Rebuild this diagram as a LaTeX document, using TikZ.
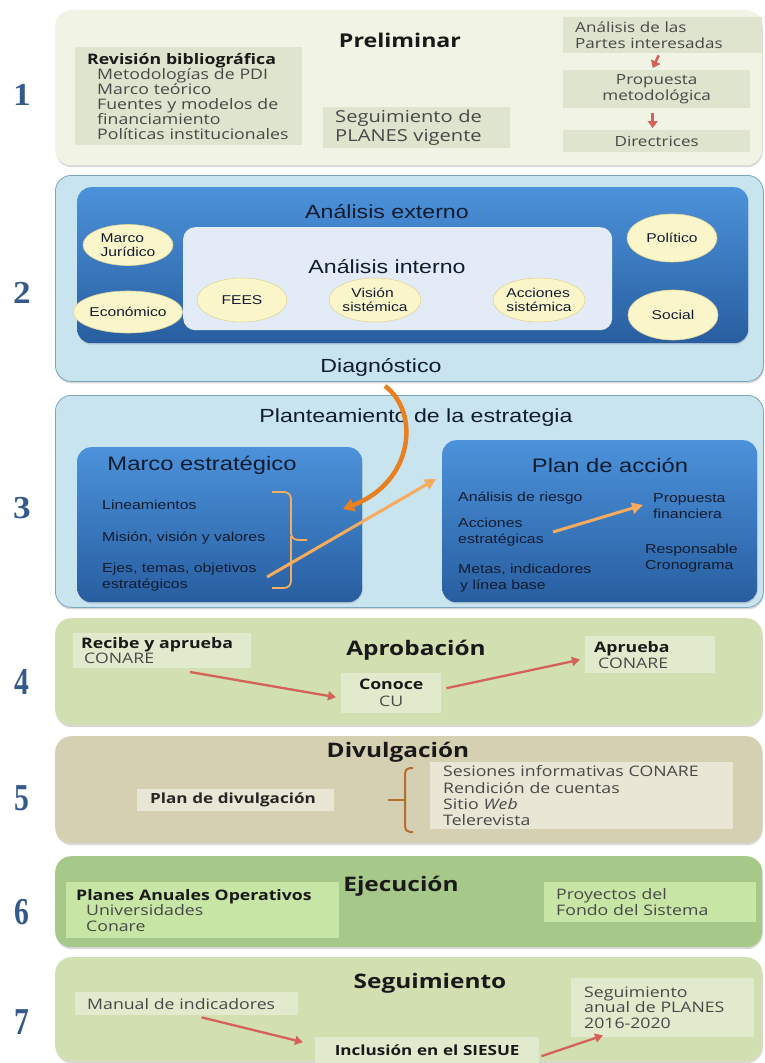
\documentclass[tikz,border=0pt]{standalone}
\usepackage{fontspec}
\setmainfont{Liberation Sans}[FakeStretch=1.22]
\newfontfamily\hfont{Open Sans}[FakeStretch=1.22]
\newfontfamily\numfont{Liberation Serif}[FakeStretch=1.1]
\newfontfamily\numfontc{Liberation Serif}[FakeStretch=0.78]
\usetikzlibrary{shadows,arrows.meta,shapes.geometric}

\definecolor{numblue}{RGB}{52,90,140}
\definecolor{s1fill}{RGB}{241,243,228}
\definecolor{s1box}{RGB}{222,228,205}
\definecolor{lblue}{RGB}{200,228,238}
\definecolor{lblueb}{RGB}{125,165,190}
\definecolor{dbluet}{RGB}{76,146,218}
\definecolor{dblueb}{RGB}{40,94,160}
\definecolor{inlight}{RGB}{227,235,246}
\definecolor{ellfill}{RGB}{251,246,202}
\definecolor{ellbord}{RGB}{225,214,150}
\definecolor{s4fill}{RGB}{210,223,177}
\definecolor{s4box}{RGB}{226,234,205}
\definecolor{s5fill}{RGB}{214,208,178}
\definecolor{s5box}{RGB}{233,230,214}
\definecolor{s6fill}{RGB}{166,201,138}
\definecolor{s6box}{RGB}{199,229,165}
\definecolor{redarr}{RGB}{212,98,88}
\definecolor{orgdark}{RGB}{232,128,32}
\definecolor{orglight}{RGB}{246,172,92}
\definecolor{bracebrown}{RGB}{180,112,48}
\definecolor{txtgrey}{RGB}{72,72,72}
\definecolor{txtnavy}{RGB}{18,28,48}

\tikzset{
  sec/.style={rounded corners=16pt, anchor=north west, inner sep=0pt,
    drop shadow={opacity=0.3, shadow xshift=0.6pt, shadow yshift=-2pt}},
  gbox/.style={anchor=north west, inner ysep=0pt, align=left, text=txtgrey,
    font=\hfont\fontsize{14.5}{15}\selectfont},
  num/.style={font=\numfont\bfseries\fontsize{32}{32}\selectfont, text=numblue},
  numc/.style={font=\numfontc\bfseries\fontsize{38}{38}\selectfont, text=numblue},
  ttl/.style={font=\hfont\bfseries\fontsize{20}{22}\selectfont, text=black!90},
  big/.style={font=\fontsize{19}{21}\selectfont, text=txtnavy},
  dbox/.style={anchor=north west, rounded corners=14pt, inner sep=0pt,
    top color=dbluet, bottom color=dblueb,
    drop shadow={opacity=0.25, shadow xshift=0.5pt, shadow yshift=-1.5pt}},
  ell/.style={ellipse, fill=ellfill, draw=ellbord, line width=0.6pt, inner sep=0pt,
    align=left, text=txtnavy, font=\fontsize{12.8}{14}\selectfont},
  itm/.style={anchor=west, align=left, text=txtnavy, inner sep=0pt,
    font=\fontsize{13}{16}\selectfont},
  rarr/.style={redarr, line width=2.3pt, -{Triangle[length=8pt,width=9pt]}},
  sarr/.style={redarr, line width=2.6pt, -{Triangle[length=7pt,width=10pt]}},
}

\begin{document}
\begin{tikzpicture}[x=1pt,y=-1pt]
\useasboundingbox (0,0) rectangle (764,1063);
\fill[white] (0,0) rectangle (764,1063);

% ---------------- Section 1 ----------------
\node[sec, fill=s1fill, minimum width=707, minimum height=155] (s1) at (55,10) {};
\node[num] (n1) at (22,95) {1};
\node[ttl, font=\hfont\bfseries\fontsize{19}{21}\selectfont] (t1) at (400,40) {Preliminar};
\node[gbox, fill=s1box, minimum width=227, minimum height=98, text width=203, inner xsep=12pt] (rev) at (75,47)
  {\textcolor{black!90}{\bfseries Revisión bibliográfica}\\
   \hspace*{10pt}Metodologías de PDI\\
   \hspace*{10pt}Marco teórico\\
   \hspace*{10pt}Fuentes y modelos de\\
   \hspace*{10pt}financiamiento\\
   \hspace*{10pt}Políticas institucionales};
\node[gbox, fill=s1box, minimum width=175, minimum height=41, text width=163, inner xsep=12pt,
  font=\hfont\fontsize{16.5}{19}\selectfont] (segv) at (323,107) {Seguimiento de\\PLANES vigente};
\node[gbox, fill=s1box, minimum width=187, minimum height=36, text width=175, inner xsep=12pt,
  font=\hfont\fontsize{14}{16}\selectfont] (apar) at (563,17) {Análisis de las\\Partes interesadas};
\node[gbox, fill=s1box, minimum width=187, minimum height=38, text width=175, inner xsep=6pt, align=center,
  font=\hfont\fontsize{14}{16}\selectfont] (pmet) at (563,70) {Propuesta\\metodológica};
\node[gbox, fill=s1box, minimum width=187, minimum height=22, text width=175, inner xsep=6pt, align=center,
  font=\hfont\fontsize{14}{16}\selectfont] (dire) at (563,130) {Directrices};
\draw[sarr] ([xshift=-4pt,yshift=-2pt]apar.south) -- ([xshift=-4pt,yshift=2pt]pmet.north);
\draw[sarr] ([xshift=-4pt,yshift=-5pt]pmet.south) -- ([xshift=-4pt,yshift=2pt]dire.north);

% ---------------- Section 2 ----------------
\node[sec, fill=lblue, draw=lblueb, line width=0.8pt, minimum width=708, minimum height=206] (s2) at (55,175) {};
\node[num] (n2) at (22,293) {2};
\node[dbox, minimum width=671, minimum height=156] (ext) at (77,187) {};
\node[anchor=north west, rounded corners=12pt, fill=inlight, inner sep=0pt, minimum width=429, minimum height=103] (int) at (183,227) {};
\node[big] (tae) at (387,212) {Análisis externo};
\node[big] (tai) at (387,267) {Análisis interno};
\node[big] (tdi) at (381,367) {Diagnóstico};
\node[ell, minimum width=90, minimum height=41] (mj) at (128,245) {Marco\\Jurídico};
\node[ell, minimum width=88, minimum height=42] (eco) at (128,312) {Económico};
\node[ell, minimum width=90, minimum height=44] (fees) at (242,300) {FEES};
\node[ell, minimum width=90, minimum height=44] (vis) at (375,300) {\hspace*{9pt}Visión\\sistémica};
\node[ell, minimum width=88, minimum height=44] (acc) at (539,300) {Acciones\\sistémica};
\node[ell, minimum width=90, minimum height=48] (pol) at (672,238) {Político};
\node[ell, minimum width=90, minimum height=50] (soc) at (673,315) {Social};

% ---------------- Section 3 ----------------
\node[sec, fill=lblue, draw=lblueb, line width=0.8pt, minimum width=708, minimum height=212] (s3) at (55,395) {};
\node[num] (n3) at (22,508) {3};
\node[big] (tpl) at (416,418) {Planteamiento de la estrategia};
\node[dbox, minimum width=285, minimum height=155] (me) at (77,447) {};
\node[dbox, minimum width=315, minimum height=162] (pa) at (442,440) {};
\node[big, font=\fontsize{19.5}{21}\selectfont] (tme) at (202,465) {Marco estratégico};
\node[big, font=\fontsize{19.5}{21}\selectfont] (tpa) at (610,465) {Plan de acción};
\node[itm] (lin) at (102,505) {Lineamientos};
\node[itm] (mis) at (102,538) {Misión, visión y valores};
\node[itm] (eje) at (102,577) {Ejes, temas, objetivos\\estratégicos};
\node[itm] (ari) at (458,498) {Análisis de riesgo};
\node[itm] (aes) at (458,532) {Acciones\\estratégicas};
\node[itm] (met) at (458,578) {Metas, indicadores\\\hspace*{2pt}y línea base};
\node[itm] (pfi) at (653,506) {Propuesta\\financiera};
\node[itm] (rcr) at (645,558) {Responsable\\Cronograma};
% brace
\draw[orglight, line width=1.8pt, rounded corners=7pt] (272,492) -| (291,540) -- (307,540);
\draw[orglight, line width=1.8pt, rounded corners=7pt] (291,536) |- (272,588);
% orange arrows
\coordinate (cs) at (385,386);
\coordinate (ce) at (343,509);
\draw[orgdark, line width=4.5pt, -{Triangle[length=11pt,width=13pt]}] (cs) .. controls (420,412) and (414,482) .. (ce);
\coordinate (ls) at (267,577);
\coordinate (le) at (436,479);
\draw[orglight, line width=3pt, -{Triangle[length=11pt,width=11pt]}] (ls) -- (le);
\coordinate (is) at (553,532);
\coordinate (ie) at (643,505);
\draw[orglight, line width=3pt, -{Triangle[length=11pt,width=11pt]}] (is) -- (ie);

% ---------------- Section 4 ----------------
\node[sec, fill=s4fill, minimum width=707, minimum height=107] (s4) at (55,618) {};
\node[numc] (n4) at (22,682) {4};
\node[ttl] (t4) at (416,650) {Aprobación};
\node[gbox, fill=s4box, minimum width=178, minimum height=35, text width=162, inner xsep=8pt,
  font=\hfont\fontsize{14.5}{14.5}\selectfont] (rec) at (73,633)
  {\textcolor{black!90}{\bfseries Recibe y aprueba}\\\hspace*{3pt}CONARE};
\node[gbox, fill=s4box, minimum width=100, minimum height=40, text width=90, inner xsep=5pt, align=center,
  font=\hfont\fontsize{14.5}{17}\selectfont] (con) at (341,673)
  {\textcolor{black!90}{\bfseries Conoce}\\CU};
\node[gbox, fill=s4box, minimum width=122, minimum height=37, text width=112, inner xsep=9pt,
  font=\hfont\fontsize{14.5}{16}\selectfont] (apr) at (585,636)
  {\textcolor{black!90}{\bfseries Aprueba}\\\hspace*{4pt}CONARE};
\coordinate (r1s) at (190,672);
\draw[rarr] (r1s) -- ([xshift=-5pt,yshift=-4pt]con.west);
\draw[rarr] ([xshift=5pt,yshift=5pt]con.east) -- ([xshift=-5pt,yshift=-5pt]apr.west);

% ---------------- Section 5 ----------------
\node[sec, fill=s5fill, minimum width=707, minimum height=107] (s5) at (55,736) {};
\node[numc] (n5) at (22,798) {5};
\node[ttl] (t5) at (398,752) {Divulgación};
\node[gbox, fill=s5box, minimum width=197, minimum height=22, text width=183, inner xsep=7pt,
  font=\hfont\bfseries\fontsize{14}{16}\selectfont, text=black!85] (pdiv) at (137,789) {\hspace*{6pt}Plan de divulgación};
\draw[bracebrown, line width=2pt, rounded corners=5pt] (413,768) -- (405,768) -- (405,832) -- (413,832);
\draw[bracebrown, line width=2pt] (405,800) -- (388,800);
\node[gbox, fill=s5box, minimum width=290, minimum height=67, text width=277, inner xsep=13pt,
  font=\hfont\fontsize{14.5}{16.3}\selectfont] (items) at (430,762)
  {Sesiones informativas CONARE\\Rendición de cuentas\\Sitio \textit{Web}\\Telerevista};

% ---------------- Section 6 ----------------
\node[sec, fill=s6fill, minimum width=707, minimum height=91] (s6) at (55,856) {};
\node[numc] (n6) at (22,912) {6};
\node[ttl] (t6) at (401,886) {Ejecución};
\node[gbox, fill=s6box, minimum width=263, minimum height=56, text width=253, inner xsep=10pt,
  font=\hfont\fontsize{14.5}{15.5}\selectfont] (pao) at (66,882)
  {\textcolor{black!90}{\bfseries Planes Anuales Operativos}\\\hspace*{10pt}Universidades\\\hspace*{10pt}Conare};
\node[gbox, fill=s6box, minimum width=200, minimum height=40, text width=188, inner xsep=12pt,
  font=\hfont\fontsize{14.5}{16}\selectfont] (pfs) at (544,882)
  {Proyectos del\\Fondo del Sistema};

% ---------------- Section 7 ----------------
\node[sec, fill=s4fill, minimum width=707, minimum height=104] (s7) at (55,957) {};
\node[numc] (n7) at (22,1022) {7};
\node[ttl] (t7) at (430,983) {Seguimiento};
\node[gbox, fill=s4box, minimum width=223, minimum height=23, text width=211, inner xsep=6pt,
  font=\hfont\fontsize{14.5}{16}\selectfont] (man) at (75,992) {\hspace*{6pt}Manual de indicadores};
\node[gbox, fill=s4box, minimum width=224, minimum height=26, text width=212, inner xsep=6pt, align=center,
  font=\hfont\bfseries\fontsize{14}{16}\selectfont, text=black!90] (inc) at (315,1037) {Inclusión en el SIESUE};
\node[gbox, fill=s4box, minimum width=170, minimum height=59, text width=157, inner xsep=13pt,
  font=\hfont\fontsize{14.5}{15.3}\selectfont] (sap) at (571,978)
  {Seguimiento\\anual de PLANES\\2016-2020};
\draw[rarr] ([xshift=15pt,yshift=-2pt]man.south) -- ([xshift=-12pt,yshift=8pt]inc.west);
\draw[rarr] ([xshift=2pt,yshift=-6pt]inc.east) -- ([xshift=32pt,yshift=2pt]sap.south west);
\end{tikzpicture}
\end{document}
